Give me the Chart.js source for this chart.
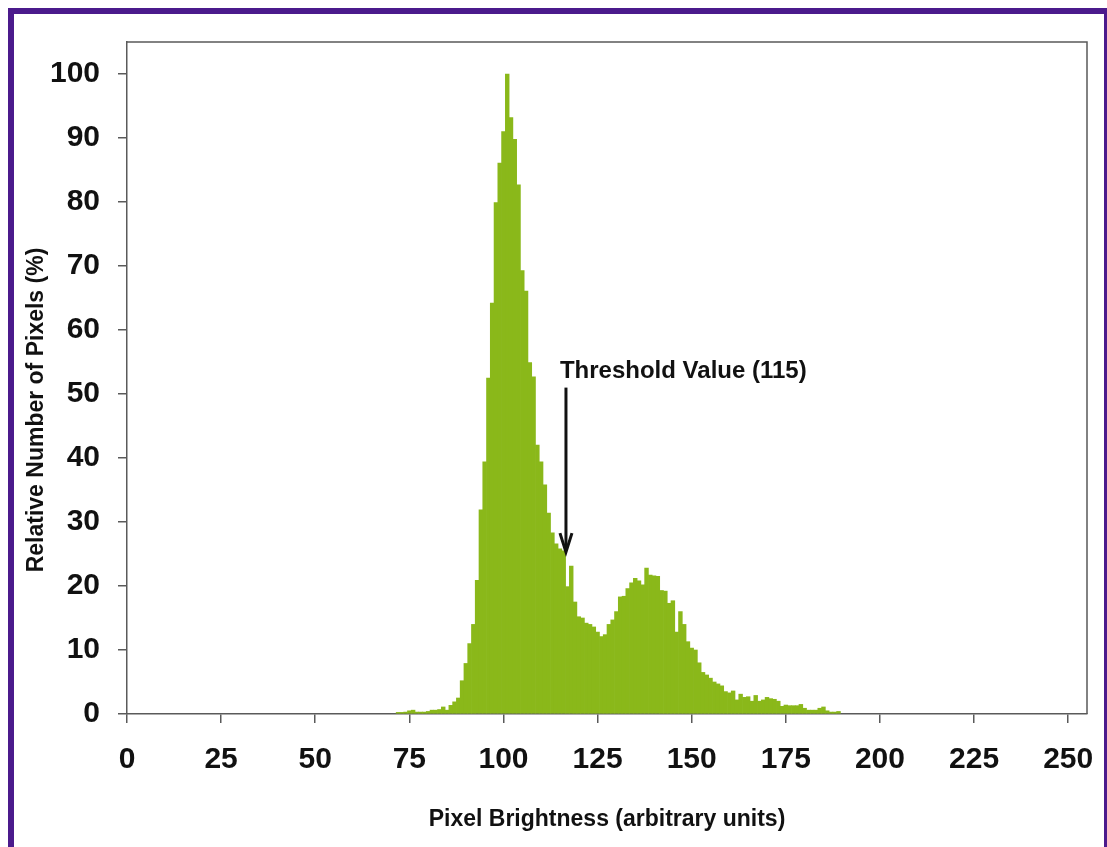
<!DOCTYPE html>
<html>
<head>
<meta charset="utf-8">
<script src="https://cdn.jsdelivr.net/npm/chart.js@4.4.1/dist/chart.umd.min.js"></script>
<style>
  html, body { margin: 0; padding: 0; background: #fff; overflow: hidden; }
  #frame {
    position: absolute; left: 8px; top: 8px; width: 1102px; height: 900px;
    border: 6px solid #4b1a8c; box-sizing: border-box;
  }
  #wrap { position: absolute; left: 0; top: 0; width: 1107px; height: 847px; }
</style>
</head>
<body>
<div id="frame"></div>
<div id="wrap"><canvas id="myChart" width="1107" height="847"></canvas></div>
<script>
// histogram bins (brightness value -> relative pixel count, %)
const firstBin = 72;
const pixelCounts = [
    0.25, 0.25, 0.3, 0.5, 0.6, 0.3, 0.3, 0.3, 0.4, 0.6,     // 72-81
    0.6, 0.7, 1.1, 0.6, 1.35, 1.9, 2.5, 5.2, 7.9, 11.0,     // 82-91
    14.0, 20.9, 31.9, 39.4, 52.5, 64.2, 79.9, 86.1, 91.0, 100, // 92-101
    93.2, 89.8, 82.7, 69.3, 66.1, 54.9, 52.7, 42.0, 39.4, 35.8, // 102-111
    31.4, 28.3, 26.6, 25.8, 25.5, 19.9, 23.1, 17.5, 15.2, 15.0, // 112-121
    14.2, 14.0, 13.6, 12.8, 12.1, 12.4, 14.0, 14.7, 16.0, 18.3, // 122-131
    18.4, 19.6, 20.5, 21.2, 20.8, 20.2, 22.8, 21.7, 21.6, 21.5, // 132-141
    19.3, 19.2, 17.3, 17.7, 12.8, 16.0, 14.0, 11.3, 10.3, 10.0, // 142-151
    8.0, 6.5, 6.1, 5.6, 5.0, 4.7, 4.4, 3.5, 3.3, 3.6,       // 152-161
    2.2, 3.1, 2.6, 2.7, 2.0, 2.9, 2.0, 2.2, 2.6, 2.4,       // 162-171
    2.3, 2.0, 1.2, 1.4, 1.3, 1.3, 1.3, 1.5, 0.9, 0.6,       // 172-181
    0.6, 0.6, 0.9, 1.1, 0.5, 0.3, 0.3, 0.4                  // 182-189
];
const brightness = pixelCounts.map((c, i) => firstBin + i);

const xTicks = [0, 25, 50, 75, 100, 125, 150, 175, 200, 225, 250];
const yTicks = [0, 10, 20, 30, 40, 50, 60, 70, 80, 90, 100];

const xTitle = 'Pixel Brightness (arbitrary units)';
const yTitle = 'Relative Number of Pixels (%)';

// threshold marker
const threshold = {
    label: 'Threshold Value (115)',
    textX: 115, textY: 52.5,
    arrowX: 116.6, arrowFrom: 51, arrowTo: 25.3
};

const barColor = 'rgb(138,184,26)';
const axisColor = '#5a5a5a';
const fontFamily = '"Liberation Sans", Arial, sans-serif';

var histogram = brightness.map((b, i) => ({ x: b, y: pixelCounts[i] }));

// plot box, rotated y title and threshold arrow
const extras = {
    id: 'extras',
    afterDraw(chart) {
        const ctx = chart.ctx;
        const area = chart.chartArea;
        const xs = chart.scales.x;
        const ys = chart.scales.y;

        ctx.save();
        ctx.strokeStyle = axisColor;
        ctx.lineWidth = 1.5;
        ctx.beginPath();
        ctx.moveTo(area.left, area.top);
        ctx.lineTo(area.right, area.top);
        ctx.lineTo(area.right, area.bottom);
        ctx.stroke();

        ctx.fillStyle = '#111';
        ctx.font = 'bold 23px ' + fontFamily;
        ctx.textAlign = 'center';
        ctx.textBaseline = 'middle';
        ctx.translate(37, 410);
        ctx.rotate(-Math.PI / 2);
        ctx.fillText(yTitle, 0, 0);
        ctx.restore();

        ctx.save();
        ctx.fillStyle = '#111';
        ctx.font = 'bold 24px ' + fontFamily;
        ctx.textAlign = 'left';
        ctx.textBaseline = 'alphabetic';
        ctx.fillText(threshold.label, xs.getPixelForValue(threshold.textX), ys.getPixelForValue(threshold.textY));

        let ax = xs.getPixelForValue(threshold.arrowX);
        let top = ys.getPixelForValue(threshold.arrowFrom);
        let tip = ys.getPixelForValue(threshold.arrowTo);
        ctx.strokeStyle = '#111';
        ctx.lineWidth = 3;
        ctx.beginPath();
        ctx.moveTo(ax, top);
        ctx.lineTo(ax, tip - 2);
        ctx.stroke();
        ctx.beginPath();
        ctx.moveTo(ax - 6, tip - 19);
        ctx.lineTo(ax, tip);
        ctx.lineTo(ax + 6, tip - 19);
        ctx.stroke();
        ctx.restore();
    }
};

var ctx = document.getElementById('myChart').getContext('2d');
var chart = new Chart(ctx, {
    type: 'bar',
    data: {
        datasets: [{
            label: 'Pixels',
            data: histogram,
            backgroundColor: barColor,
            borderWidth: 0,
            barPercentage: 1,
            categoryPercentage: 1
        }]
    },
    options: {
        responsive: false,
        animation: false,
        layout: { padding: { left: 0, top: 42, right: 20, bottom: 0 } },
        plugins: {
            legend: { display: false },
            tooltip: { enabled: false }
        },
        scales: {
            x: {
                type: 'linear',
                min: 0,
                max: 255,
                offset: false,
                afterBuildTicks: s => { s.ticks = xTicks.map(v => ({ value: v })); },
                afterFit: s => {
                    s.height = 133;
                    s.paddingLeft = 0;
                    s.paddingRight = 0;
                },
                grid: { offset: false, drawOnChartArea: false, drawTicks: true, tickLength: 9, color: axisColor, lineWidth: 1.5 },
                border: { display: true, color: axisColor, width: 1.5 },
                ticks: {
                    padding: 19,
                    color: '#111',
                    maxRotation: 0,
                    font: { family: fontFamily, size: 30, weight: 'bold' }
                },
                title: {
                    display: true,
                    text: xTitle,
                    color: '#111',
                    padding: { top: 0, bottom: 14 },
                    font: { family: fontFamily, size: 23, weight: 'bold' }
                }
            },
            y: {
                min: 0,
                max: 105,
                afterBuildTicks: s => { s.ticks = yTicks.map(v => ({ value: v })); },
                afterFit: s => {
                    s.width = 127;
                    s.paddingTop = 0;
                    s.paddingBottom = 0;
                },
                grid: { drawOnChartArea: false, drawTicks: true, tickLength: 9, color: axisColor, lineWidth: 1.5 },
                border: { display: true, color: axisColor, width: 1.5 },
                ticks: {
                    padding: 18,
                    color: '#111',
                    font: { family: fontFamily, size: 30, weight: 'bold' }
                }
            }
        }
    },
    plugins: [extras]
});
</script>
</body>
</html>
